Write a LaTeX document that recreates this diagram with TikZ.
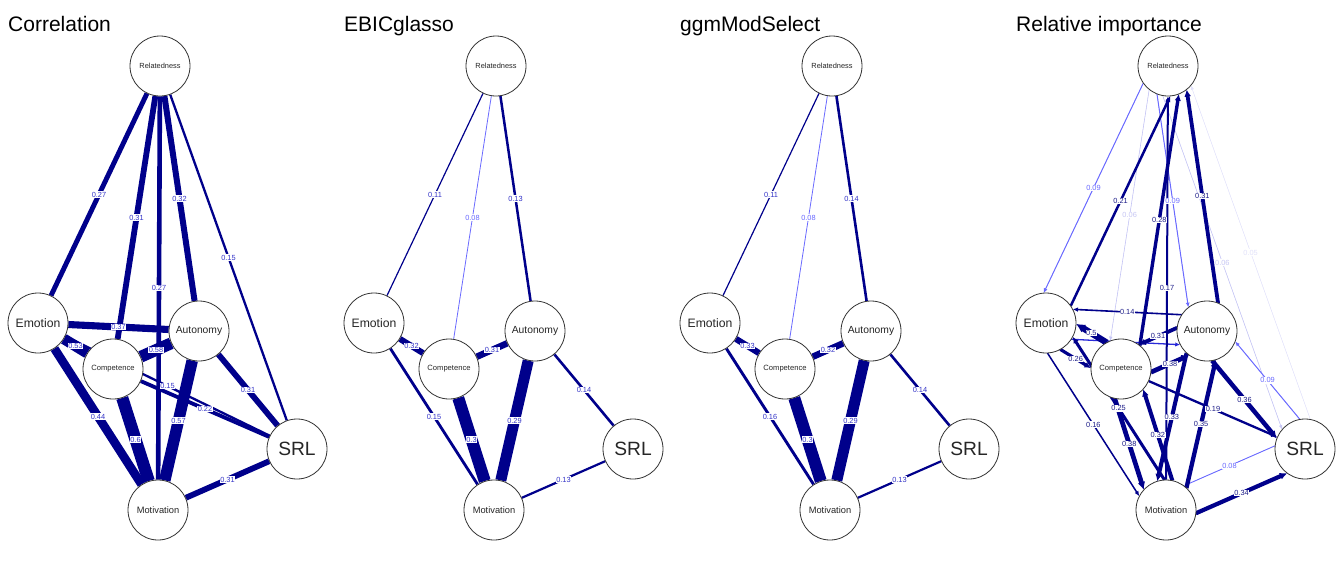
\documentclass[tikz,border=0pt]{standalone}
\usepackage{fontspec}
\setmainfont{Liberation Sans}
\usetikzlibrary{arrows.meta,calc}
\definecolor{edark}{HTML}{00008B}
\definecolor{labblue}{HTML}{3434C8}
\definecolor{labdark}{HTML}{1C1C88}
\definecolor{emid}{HTML}{2A2AD8}
\definecolor{efade}{HTML}{6A6AFF}
\definecolor{elight}{HTML}{C6C6F4}
\definecolor{epale}{HTML}{E2E2FA}

\pgfdeclarelayer{edges}
\pgfdeclarelayer{labels}
\pgfsetlayers{edges,labels,main}

\tikzset{
  vnode/.style={circle, draw=black!80, line width=0.8pt, fill=white,
    minimum size=60pt, inner sep=0pt, text=black!85},
  ptitle/.style={anchor=base west, inner sep=0pt, font=\fontsize{21}{25}\selectfont},
  elab/.style={font=\fontsize{7.4}{8}\selectfont, fill=white, inner sep=0.5pt},
  arr/.style={-{Latex[length=4pt 0.8, width=3pt 1]}}
}

% undirected edge: [label colour]{width}{colour}{from}{to}{label}
\newcommand{\uedge}[6][labblue]{%
  \begin{pgfonlayer}{edges}
    \draw[line width=#2pt, draw=#3] (#4) -- (#5);
  \end{pgfonlayer}
  \begin{pgfonlayer}{labels}
    \path (#4) -- node[elab, text=#1] {#6} (#5);
  \end{pgfonlayer}}
% directed edge, straight
\newcommand{\dedge}[6][labdark]{%
  \begin{pgfonlayer}{edges}
    \draw[arr, line width=#2pt, draw=#3, fill=#3] (#4) -- (#5);
  \end{pgfonlayer}
  \begin{pgfonlayer}{labels}
    \path (#4) -- node[elab, text=#1] {#6} (#5);
  \end{pgfonlayer}}
% directed edge, one of a pair (moved off to its right)
\newcommand{\bedge}[6][labdark]{%
  \begin{pgfonlayer}{edges}
    \draw[arr, line width=#2pt, draw=#3, fill=#3]
      ($(#4)!30pt!-30:(#5)$) -- ($(#5)!30pt!30:(#4)$);
  \end{pgfonlayer}
  \begin{pgfonlayer}{labels}
    \path ($(#4)!30pt!-30:(#5)$) -- node[elab, text=#1] {#6} ($(#5)!30pt!30:(#4)$);
  \end{pgfonlayer}}

\begin{document}
\begin{tikzpicture}[x=1pt, y=-1pt]
  \useasboundingbox (0,0) rectangle (1344,576);

  % titles
  \node[ptitle] (cTitle) at (8,31) {Correlation};
  \node[ptitle] (eTitle) at (344,31) {EBICglasso};
  \node[ptitle] (gTitle) at (680,31) {ggmModSelect};
  \node[ptitle] (rTitle) at (1016,31) {Relative importance};

  % the same six nodes in every panel
  \foreach \p/\dx in {c/0, e/336, g/672, r/1008} {
    \node[vnode, font=\fontsize{7.4}{8}\selectfont] (\p Rel) at (\dx+160,66) {Relatedness};
    \node[vnode, font=\fontsize{12.2}{13}\selectfont] (\p Emo) at (\dx+38,323) {Emotion};
    \node[vnode, font=\fontsize{10.3}{11}\selectfont] (\p Aut) at (\dx+199,331) {Autonomy};
    \node[vnode, font=\fontsize{7.6}{8}\selectfont] (\p Comp) at (\dx+113,369) {Competence};
    \node[vnode, font=\fontsize{19.2}{20}\selectfont] (\p SRL) at (\dx+297,449) {SRL};
    \node[vnode, font=\fontsize{9.3}{10}\selectfont] (\p Mot) at (\dx+158,510) {Motivation};
  }

  % Correlation
  \uedge{2.3}{edark}{cRel}{cSRL}{0.15}
  \uedge{2.3}{edark}{cEmo}{cSRL}{0.15}
  \uedge{3.8}{edark}{cComp}{cSRL}{0.22}
  \uedge{4.9}{edark}{cRel}{cEmo}{0.27}
  \uedge{4.6}{edark}{cRel}{cMot}{0.27}
  \uedge{5.8}{edark}{cRel}{cComp}{0.31}
  \uedge{5.8}{edark}{cAut}{cSRL}{0.31}
  \uedge{5.8}{edark}{cSRL}{cMot}{0.31}
  \uedge{6}{edark}{cRel}{cAut}{0.32}
  \uedge{7.1}{edark}{cEmo}{cAut}{0.37}
  \uedge{8.7}{edark}{cEmo}{cMot}{0.44}
  \uedge{10.7}{edark}{cEmo}{cComp}{0.53}
  \uedge{11.5}{edark}{cAut}{cMot}{0.57}
  \uedge{11.8}{edark}{cComp}{cAut}{0.58}
  \uedge{12.2}{edark}{cComp}{cMot}{0.6}

  % EBICglasso
  \uedge[efade]{0.8}{efade}{eRel}{eComp}{0.08}
  \uedge{1.2}{edark}{eRel}{eEmo}{0.11}
  \uedge{2.2}{edark}{eSRL}{eMot}{0.13}
  \uedge{2.5}{edark}{eRel}{eAut}{0.13}
  \uedge{2.6}{edark}{eAut}{eSRL}{0.14}
  \uedge{2.8}{edark}{eEmo}{eMot}{0.15}
  \uedge{6}{edark}{eEmo}{eComp}{0.32}
  \uedge{6.5}{edark}{eComp}{eAut}{0.31}
  \uedge{11}{edark}{eAut}{eMot}{0.29}
  \uedge{12}{edark}{eComp}{eMot}{0.3}

  % ggmModSelect
  \uedge[efade]{0.8}{efade}{gRel}{gComp}{0.08}
  \uedge{1.2}{edark}{gRel}{gEmo}{0.11}
  \uedge{2.2}{edark}{gSRL}{gMot}{0.13}
  \uedge{2.6}{edark}{gRel}{gAut}{0.14}
  \uedge{2.6}{edark}{gAut}{gSRL}{0.14}
  \uedge{2.9}{edark}{gEmo}{gMot}{0.16}
  \uedge{6.2}{edark}{gEmo}{gComp}{0.33}
  \uedge{6.5}{edark}{gComp}{gAut}{0.32}
  \uedge{11}{edark}{gAut}{gMot}{0.29}
  \uedge{12}{edark}{gComp}{gMot}{0.3}

  % Relative importance
  \bedge[epale]{0.5}{epale}{rSRL}{rRel}{0.05}
  \bedge[elight]{0.6}{elight}{rRel}{rComp}{0.06}
  \bedge[elight]{0.6}{elight}{rRel}{rSRL}{0.06}
  \bedge[efade]{0.9}{efade}{rSRL}{rMot}{0.08}
  \bedge[efade]{1}{efade}{rRel}{rEmo}{0.09}
  \bedge[efade]{1}{efade}{rRel}{rAut}{0.09}
  \bedge[efade]{1}{efade}{rSRL}{rAut}{0.09}
  \begin{pgfonlayer}{edges}
    \draw[arr, line width=1.3pt, draw=emid, fill=emid]
      ($(rEmo)!30pt!-30:(rAut)$) -- ($(rAut)!30pt!30:(rEmo)$);
  \end{pgfonlayer}
  \bedge{1.6}{edark}{rAut}{rEmo}{0.14}
  \bedge{1.5}{edark}{rEmo}{rMot}{0.16}
  \dedge{2}{edark}{rMot}{rRel}{0.17}
  \dedge{2.3}{edark}{rComp}{rSRL}{0.19}
  \bedge{2.5}{edark}{rEmo}{rRel}{0.21}
  \bedge{3}{edark}{rMot}{rEmo}{0.25}
  \bedge{3.2}{edark}{rEmo}{rComp}{0.26}
  \bedge{3.4}{edark}{rComp}{rRel}{0.28}
  \bedge{3.8}{edark}{rAut}{rRel}{0.31}
  \bedge{3.8}{edark}{rAut}{rComp}{0.31}
  \bedge{4}{edark}{rMot}{rComp}{0.32}
  \bedge{4.1}{edark}{rAut}{rMot}{0.33}
  \bedge{4.2}{edark}{rMot}{rSRL}{0.34}
  \bedge{4.3}{edark}{rMot}{rAut}{0.35}
  \bedge{4.5}{edark}{rAut}{rSRL}{0.36}
  \bedge{4.7}{edark}{rComp}{rAut}{0.38}
  \bedge{4.7}{edark}{rComp}{rMot}{0.38}
  \bedge{6.3}{edark}{rComp}{rEmo}{0.5}
\end{tikzpicture}
\end{document}
